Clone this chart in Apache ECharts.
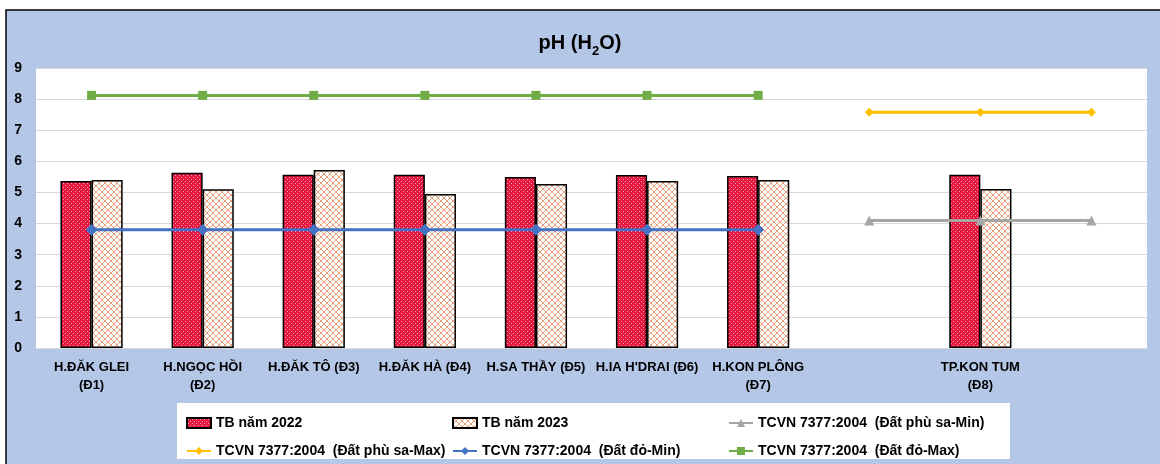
<!DOCTYPE html>
<html><head><meta charset="utf-8">
<script src="https://cdn.jsdelivr.net/npm/echarts@6/dist/echarts.min.js"></script>
<style>html,body{margin:0;padding:0;background:#fff}#c{width:1160px;height:464px}</style>
</head><body><div id="c"></div>
<script>
const categories = ['H.ĐĂK GLEI\n(Đ1)', 'H.NGỌC HỒI\n(Đ2)', 'H.ĐĂK TÔ (Đ3)', 'H.ĐĂK HÀ (Đ4)', 'H.SA THẦY (Đ5)', "H.IA H'DRAI (Đ6)", 'H.KON PLÔNG\n(Đ7)', '', 'TP.KON TUM\n(Đ8)', ''];
const tb2022 = [5.37, 5.63, 5.57, 5.57, 5.50, 5.56, 5.53, null, 5.57, null];
const tb2023 = [5.40, 5.10, 5.72, 4.95, 5.27, 5.37, 5.40, null, 5.11, null];
const phuSaMin = [null, null, null, null, null, null, null, 4.1, 4.1, 4.1];
const phuSaMax = [null, null, null, null, null, null, null, 7.58, 7.58, 7.58];
const doMin = [3.8, 3.8, 3.8, 3.8, 3.8, 3.8, 3.8, null, null, null];
const doMax = [8.12, 8.12, 8.12, 8.12, 8.12, 8.12, 8.12, null, null, null];
const names = ['TB năm 2022', 'TB năm 2023', 'TCVN 7377:2004  (Đất phù sa-Min)', 'TCVN 7377:2004  (Đất phù sa-Max)', 'TCVN 7377:2004  (Đất đỏ-Min)', 'TCVN 7377:2004  (Đất đỏ-Max)'];

function dotPattern() {
  const c = document.createElement('canvas'); c.width = 4; c.height = 4;
  const g = c.getContext('2d');
  g.fillStyle = '#E8173F'; g.fillRect(0, 0, 4, 4);
  g.fillStyle = '#F7A9B8'; g.fillRect(1, 1, 1, 1); g.fillRect(3, 3, 1, 1);
  return c;
}
function hatchPattern() {
  const c = document.createElement('canvas'); c.width = 6; c.height = 6;
  const g = c.getContext('2d');
  g.fillStyle = '#ffffff'; g.fillRect(0, 0, 6, 6);
  g.strokeStyle = '#E8A07A'; g.lineWidth = 1;
  g.beginPath(); g.moveTo(0, 0); g.lineTo(6, 6); g.moveTo(6, 0); g.lineTo(0, 6); g.stroke();
  return c;
}
const FONT = "'Liberation Sans', Arial, sans-serif";
const chart = echarts.init(document.getElementById('c'), null, {renderer: 'canvas'});
const legTxt = {fontFamily: FONT, fontWeight: 'bold', fontSize: 14, color: '#000', lineHeight: 16};
function leg(left, data) {
  return {orient: 'vertical', left: left, top: 410, itemWidth: 24, itemHeight: 10, itemGap: 12,
    textStyle: legTxt, data: data, selectedMode: false};
}
chart.setOption({
  animation: false,
  backgroundColor: '#ffffff',
  graphic: [
    {type: 'rect', shape: {x: 6, y: 10, width: 1170, height: 470}, style: {fill: '#B4C7E7', stroke: '#000', lineWidth: 1.5}, z: -10},
    {type: 'rect', shape: {x: 177, y: 403, width: 833, height: 56}, style: {fill: '#fff'}, z: -5}
  ],
  title: {
    text: '{a|pH (H}{b|2}{a|O)}', left: 'center', top: 24,
    textStyle: {rich: {
      a: {fontFamily: FONT, fontWeight: 'bold', fontSize: 20, color: '#000', lineHeight: 24, verticalAlign: 'bottom'},
      b: {fontFamily: FONT, fontWeight: 'bold', fontSize: 13, color: '#000', lineHeight: 24, verticalAlign: 'bottom', padding: [0, 0, -5, 0]}
    }}
  },
  legend: [
    leg(181, [{name: names[0], icon: 'rect'}, names[3]]),
    leg(447, [{name: names[1], icon: 'rect'}, names[4]]),
    leg(723, [names[2], names[5]])
  ],
  grid: {left: 36, right: 13, top: 68, bottom: 116, show: true, backgroundColor: '#ffffff', borderWidth: 0},
  xAxis: {
    type: 'category', data: categories, boundaryGap: true,
    axisTick: {show: false},
    axisLine: {lineStyle: {color: '#D9D9D9'}},
    axisLabel: {interval: 0, fontFamily: FONT, fontWeight: 'bold', fontSize: 13, color: '#000', lineHeight: 18, margin: 10}
  },
  yAxis: {
    type: 'value', min: 0, max: 9, interval: 1,
    axisLine: {show: false}, axisTick: {show: false},
    splitLine: {lineStyle: {color: '#D9D9D9', width: 1}},
    axisLabel: {fontFamily: FONT, fontWeight: 'bold', fontSize: 14, color: '#000', margin: 14}
  },
  series: [
    {name: names[0], type: 'bar', data: tb2022, barGap: '0%', barCategoryGap: '44%',
      itemStyle: {color: {image: dotPattern(), repeat: 'repeat'}, borderColor: '#000', borderWidth: 1.5}},
    {name: names[1], type: 'bar', data: tb2023,
      itemStyle: {color: {image: hatchPattern(), repeat: 'repeat'}, borderColor: '#000', borderWidth: 1.5}},
    {name: names[2], type: 'line', data: phuSaMin, symbol: 'triangle', symbolSize: 10,
      lineStyle: {color: '#A5A5A5', width: 3}, itemStyle: {color: '#A5A5A5'}},
    {name: names[3], type: 'line', data: phuSaMax, symbol: 'diamond', symbolSize: 9,
      lineStyle: {color: '#FFC000', width: 3}, itemStyle: {color: '#FFC000'}},
    {name: names[4], type: 'line', data: doMin, symbol: 'diamond', symbolSize: 12,
      lineStyle: {color: '#4472C4', width: 3}, itemStyle: {color: '#4472C4'}},
    {name: names[5], type: 'line', data: doMax, symbol: 'rect', symbolSize: 9,
      lineStyle: {color: '#70AD47', width: 3}, itemStyle: {color: '#70AD47'}}
  ]
});
</script></body></html>
